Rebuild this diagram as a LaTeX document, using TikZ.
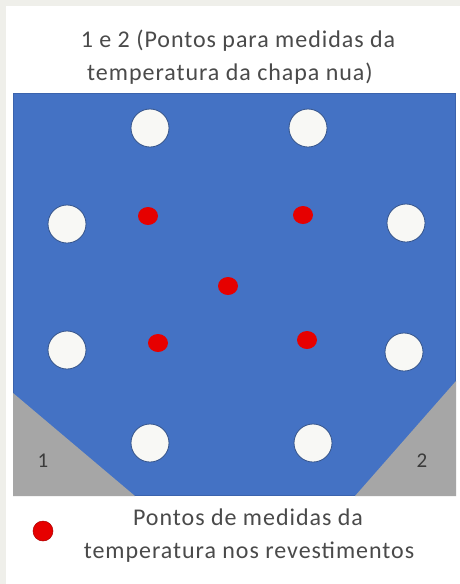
\documentclass[tikz,border=0pt]{standalone}
\usepackage{fontspec}
\setmainfont{Carlito}
\newfontfamily\captionfont[LetterSpace=4]{Carlito}
\usetikzlibrary{shapes.geometric}
\definecolor{frame}{HTML}{EFEFEA}
\definecolor{plate}{HTML}{4472C4}
\definecolor{plateedge}{HTML}{3B63AD}
\definecolor{bare}{HTML}{A6A6A6}
\definecolor{holefill}{HTML}{F8F8F5}
\definecolor{holeedge}{HTML}{34538A}
\definecolor{probe}{HTML}{E60000}
\definecolor{textgray}{HTML}{4A4A4A}
\tikzset{
  caption/.style={anchor=base,text=textgray,inner sep=0pt,
                  font=\captionfont\fontsize{24}{33}\selectfont},
  cornerlabel/.style={text=textgray!80!black,inner sep=0pt,
                      font=\fontsize{21}{24}\selectfont},
  hole/.style={circle,draw=holeedge,fill=holefill,line width=0.8pt,
               minimum size=38pt,inner sep=0pt},
  probedot/.style={ellipse,fill=probe,minimum width=20pt,
                   minimum height=18pt,inner sep=0pt}
}

\begin{document}
\begin{tikzpicture}[x=1pt,y=-1pt]
  \useasboundingbox (0,0) rectangle (460,584);
  % page
  \fill[frame] (0,0) rectangle (460,584);
  \fill[white] (6,6) rectangle (460,584);

  % title
  \node[caption] (title1) at (238,47) {1 e 2 (Pontos para medidas da};
  \node[caption] (title2) at (230,80) {temperatura da chapa nua)};

  % coated plate
  \fill[plate] (13,93) rectangle (456,496);
  \draw[plateedge,line width=1.2pt] (13.6,93.6) rectangle (455.4,495.4);

  % bare corners
  \fill[bare] (13,393) -- (13,496) -- (135,496) -- cycle;
  \fill[bare] (456,381) -- (456,496) -- (355,496) -- cycle;
  \node[cornerlabel] (c1) at (43,461) {1};
  \node[cornerlabel] (c2) at (422,461) {2};

  % holes
  \foreach \p [count=\i] in {(150,128),(308,128),(67,224),(406,223),
                             (67,350),(404,352),(150,443),(313,443)} {
    \node[hole] (h\i) at \p {};
  }

  % measuring points on the coating
  \foreach \p [count=\i] in {(148,216),(303,215),(228,286),(158,343),(307,340)} {
    \node[probedot] (m\i) at \p {};
  }

  % legend
  \node[probedot,draw=probe!75!black,line width=0.5pt,
        minimum width=20pt,minimum height=20pt] (key) at (43,531) {};
  \node[caption] (legend1) at (248,525) {Pontos de medidas da};
  \node[caption] (legend2) at (249,558) {temperatura nos revestimentos};
\end{tikzpicture}
\end{document}
